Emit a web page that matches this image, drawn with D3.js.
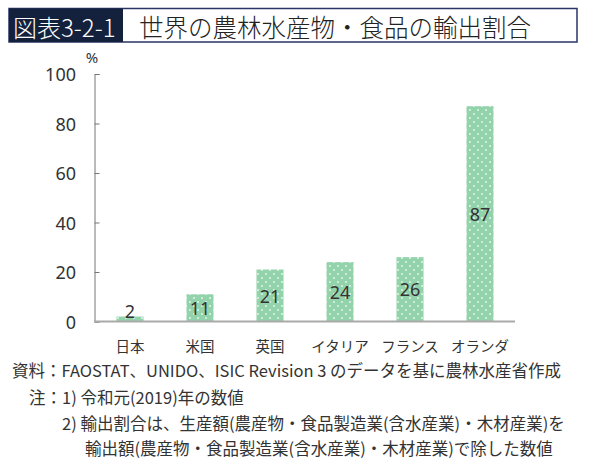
<!DOCTYPE html>
<html>
<head>
<meta charset="utf-8">
<script src="https://cdn.jsdelivr.net/npm/d3@7"></script>
<style>
  body { margin: 0; background: #fff; }
  svg { display: block; font-family: "Noto Sans CJK JP", "Noto Sans", sans-serif; }
  .num { font-family: "Noto Sans", "Noto Sans CJK JP", sans-serif; }
</style>
</head>
<body>
<div id="chart"></div>
<script>
// chart data
var countries = ["日本", "米国", "英国", "イタリア", "フランス", "オランダ"];
var shares = [2, 11, 21, 24, 26, 87];
var yTicks = [0, 20, 40, 60, 80, 100];

var W = 596, H = 476;
var svg = d3.select("#chart").append("svg")
  .attr("width", W).attr("height", H);

// dotted fill for the bars
var defs = svg.append("defs");
var pat = defs.append("pattern")
  .attr("id", "dots")
  .attr("patternUnits", "userSpaceOnUse")
  .attr("width", 8).attr("height", 8);
pat.append("rect").attr("width", 8).attr("height", 8).attr("fill", "#93d3ab");
pat.append("circle").attr("cx", 2).attr("cy", 2).attr("r", 0.9).attr("fill", "#e8f7ee");
pat.append("circle").attr("cx", 6).attr("cy", 6).attr("r", 0.9).attr("fill", "#e8f7ee");

// title
svg.append("rect")
  .attr("x", 9).attr("y", 8.5).attr("width", 568).attr("height", 33.5)
  .attr("fill", "#fff").attr("stroke", "#2b3566").attr("stroke-width", 1.5);
svg.append("rect")
  .attr("x", 9).attr("y", 8.5).attr("width", 114).attr("height", 33.5)
  .attr("fill", "#14213d");
svg.append("text")
  .attr("x", 13).attr("y", 26)
  .attr("dominant-baseline", "central")
  .attr("fill", "#fff").attr("font-size", 24).attr("font-weight", 300)
  .text("図表3-2-1");
svg.append("text")
  .attr("x", 139).attr("y", 26)
  .attr("dominant-baseline", "central")
  .attr("fill", "#222").attr("font-size", 24.5).attr("font-weight", 300)
  .text("世界の農林水産物・食品の輸出割合");

// scales
var x = d3.scaleBand()
  .domain(countries)
  .range([95, 515])
  .paddingInner(0.614)
  .paddingOuter(0.307);

var y = d3.scaleLinear()
  .domain([0, 100])
  .range([321.5, 74]);

// y axis, ticks point inwards
var yAxis = svg.append("g")
  .attr("transform", "translate(94.5,0)")
  .call(d3.axisRight(y).tickValues(yTicks).tickSize(5).tickFormat(""));
yAxis.select(".domain").attr("stroke", "#777");
yAxis.selectAll(".tick line").attr("stroke", "#777");

svg.append("g").selectAll("text")
  .data(yTicks)
  .enter().append("text")
  .attr("class", "num")
  .attr("x", 76)
  .attr("y", function(d) { return y(d); })
  .attr("text-anchor", "end")
  .attr("dominant-baseline", "central")
  .attr("font-size", 18)
  .attr("fill", "#333")
  .text(function(d) { return d; });

svg.append("text")
  .attr("class", "num")
  .attr("x", 92).attr("y", 57)
  .attr("text-anchor", "middle")
  .attr("dominant-baseline", "central")
  .attr("font-size", 15).attr("fill", "#333")
  .text("%");

// bars
svg.append("g").selectAll("rect")
  .data(shares)
  .enter().append("rect")
  .attr("x", function(d, i) { return x(countries[i]); })
  .attr("width", x.bandwidth())
  .attr("y", function(d) { return y(d); })
  .attr("height", function(d) { return y(0) - y(d); })
  .attr("fill", "url(#dots)");

// x axis line
svg.append("line")
  .attr("x1", 94).attr("x2", 515)
  .attr("y1", y(0)).attr("y2", y(0))
  .attr("stroke", "#aaa").attr("stroke-width", 2);

// value labels in the middle of the bar, a too short bar gets it on top
svg.append("g").selectAll("text")
  .data(shares)
  .enter().append("text")
  .attr("class", "num")
  .attr("x", function(d, i) { return x(countries[i]) + x.bandwidth() / 2; })
  .attr("y", function(d) {
    var h = y(0) - y(d);
    return h > 20 ? (y(d) + y(0)) / 2 : y(d) - 6;
  })
  .attr("text-anchor", "middle")
  .attr("dominant-baseline", "central")
  .attr("font-size", 18)
  .attr("fill", "#333")
  .text(function(d) { return d; });

// category labels
svg.append("g").selectAll("text")
  .data(countries)
  .enter().append("text")
  .attr("x", function(d) { return x(d) + x.bandwidth() / 2; })
  .attr("y", 345)
  .attr("text-anchor", "middle")
  .attr("dominant-baseline", "central")
  .attr("font-size", 14.5)
  .attr("fill", "#333")
  .text(function(d) { return d; });

// notes under the chart
var notes = [
  { x: 12, y: 370, t: "資料：FAOSTAT、UNIDO、ISIC Revision 3 のデータを基に農林水産省作成" },
  { x: 29, y: 397, t: "注：1)  令和元(2019)年の数値" },
  { x: 62, y: 423, t: "2)  輸出割合は、生産額(農産物・食品製造業(含水産業)・木材産業)を" },
  { x: 85, y: 448, t: "輸出額(農産物・食品製造業(含水産業)・木材産業)で除した数値" }
];
svg.append("g").selectAll("text")
  .data(notes)
  .enter().append("text")
  .attr("x", function(d) { return d.x; })
  .attr("y", function(d) { return d.y; })
  .attr("dominant-baseline", "central")
  .attr("font-size", 16.5)
  .attr("fill", "#333")
  .text(function(d) { return d.t; });
</script>
</body>
</html>
